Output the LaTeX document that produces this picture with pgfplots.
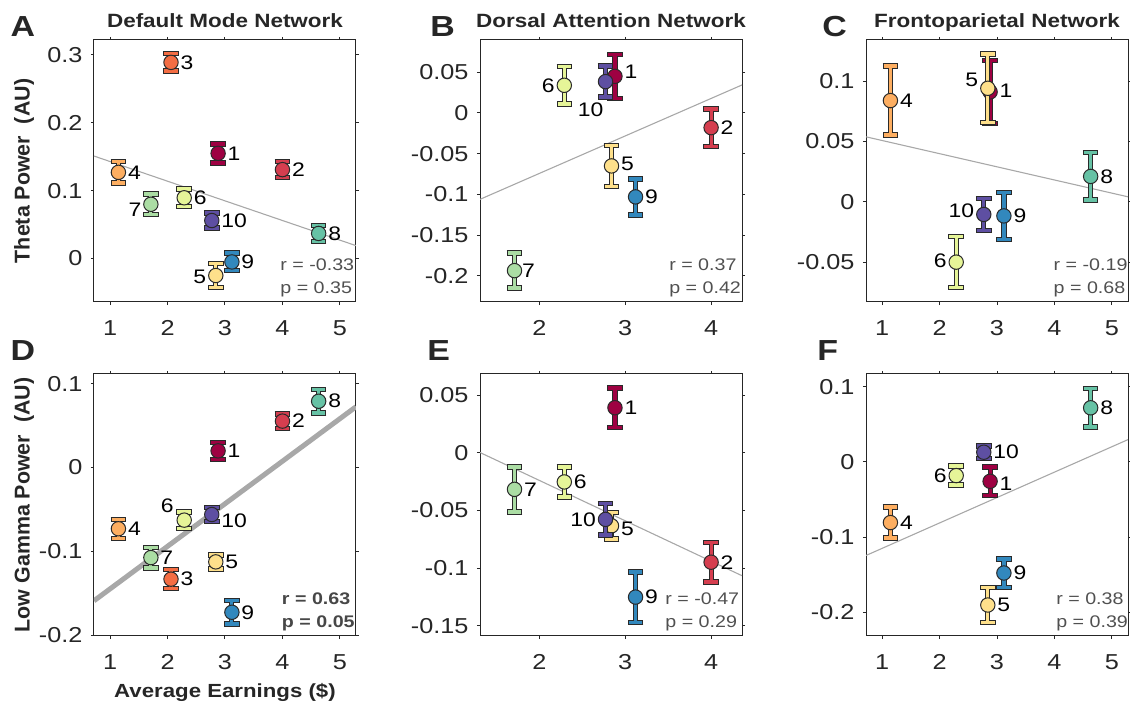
\documentclass[border=0pt]{standalone}
\usepackage{fontspec}
\setmainfont{Liberation Sans}[FakeStretch=1.17]
\newfontfamily\ylabfont{Liberation Sans}
\usepackage{pgfplots}
\pgfplotsset{compat=1.18}
\definecolor{c1}{HTML}{9E0142}
\definecolor{c2}{HTML}{D53E4F}
\definecolor{c3}{HTML}{F46D43}
\definecolor{c4}{HTML}{FDAE61}
\definecolor{c5}{HTML}{FEE08B}
\definecolor{c6}{HTML}{E6F598}
\definecolor{c7}{HTML}{ABDDA4}
\definecolor{c8}{HTML}{66C2A5}
\definecolor{c9}{HTML}{3288BD}
\definecolor{c10}{HTML}{5E4FA2}
\definecolor{ebc}{HTML}{2A2A2A}
\definecolor{axc}{HTML}{262626}
\definecolor{regc}{HTML}{A8A8A8}
\definecolor{statc}{HTML}{505050}
\pgfplotsset{
  ax/.style={scale only axis, width=131pt, height=131pt, anchor=south west,
    clip mode=individual,
    tick align=outside, major tick length=1.6pt,
    axis line style={draw=axc, line width=0.5pt},
    tick style={draw=axc, line width=0.5pt},
    ticklabel style={font=\fontsize{10.8}{13}\selectfont, text=axc},
    xticklabel style={yshift=-4.3pt},
    yticklabel style={xshift=-0.6pt},
    title style={font=\bfseries\fontsize{9.6}{12}\selectfont, text=axc, anchor=base, at={(0.5,1.0485)}, yshift=-6pt},
    ylabel style={font=\ylabfont\bfseries\fontsize{10.7}{12}\selectfont, text=axc, at={(axis description cs:-0.267,0.5)}, anchor=center},
    xlabel style={font=\bfseries\fontsize{9.5}{12}\selectfont, text=axc, at={(axis description cs:0.5,-0.233)}, anchor=base},
  },
  xa/.style={xmin=0.72, xmax=5.28, xtick={1,2,3,4,5}, xticklabels={1,2,3,4,5}},
  xb/.style={xmin=1.308, xmax=4.36, xtick={2,3,4}, xticklabels={2,3,4}},
  eo/.style={forget plot, only marks, mark=none, error bars/.cd, y dir=both, y explicit,
    error mark=-, error bar style={line width=2.6pt, draw=ebc},
    error mark options={rotate=90, mark size=3.9pt, line width=2.7pt, draw=ebc}},
  ei/.style={forget plot, only marks, mark=*, mark size=3.6pt,
    mark options={fill=#1, draw=ebc, line width=0.5pt},
    error bars/.cd, y dir=both, y explicit,
    error mark=-, error bar style={line width=1.6pt, draw=#1},
    error mark options={rotate=90, mark size=3.4pt, line width=1.7pt, draw=#1}},
  reg/.style={forget plot, no marks, draw=regc, line width=0.55pt},
}
\tikzset{
  lr/.style={anchor=west, xshift=4.6pt, inner sep=0pt, font=\fontsize{9.8}{12}\selectfont},
  ll/.style={anchor=east, xshift=-4.6pt, inner sep=0pt, font=\fontsize{9.8}{12}\selectfont},
  st/.style={anchor=base west, inner sep=0pt, font=\fontsize{8.4}{10}\selectfont, text=statc},
  pl/.style={anchor=base west, inner sep=0pt, font=\bfseries\fontsize{14.5}{16}\selectfont, text=axc},
}
\begin{document}
\begin{tikzpicture}
\useasboundingbox (0,0) rectangle (565pt,352pt);
% ---------------- A
\begin{axis}[ax, xa, at={(47pt,201pt)}, ymin=-0.064, ymax=0.322,
  ytick={0,0.1,0.2,0.3}, yticklabels={0,0.1,0.2,0.3},
  title={Default Mode Network}, ylabel={Theta Power\ \ (AU)}]
\addplot[reg] coordinates {(0.72,0.151) (5.28,0.019)};
\addplot[eo] coordinates {(2.88,0.155) +- (0,0.014)};
\addplot[ei=c1] coordinates {(2.88,0.155) +- (0,0.014)};
\addplot[eo] coordinates {(4.00,0.131) +- (0,0.012)};
\addplot[ei=c2] coordinates {(4.00,0.131) +- (0,0.012)};
\addplot[eo] coordinates {(2.06,0.289) +- (0,0.013)};
\addplot[ei=c3] coordinates {(2.06,0.289) +- (0,0.013)};
\addplot[eo] coordinates {(1.145,0.127) +- (0,0.016)};
\addplot[ei=c4] coordinates {(1.145,0.127) +- (0,0.016)};
\addplot[eo] coordinates {(2.84,-0.025) +- (0,0.018)};
\addplot[ei=c5] coordinates {(2.84,-0.025) +- (0,0.018)};
\addplot[eo] coordinates {(2.29,0.0895) +- (0,0.013)};
\addplot[ei=c6] coordinates {(2.29,0.0895) +- (0,0.013)};
\addplot[eo] coordinates {(1.71,0.080) +- (0,0.015)};
\addplot[ei=c7] coordinates {(1.71,0.080) +- (0,0.015)};
\addplot[eo] coordinates {(4.63,0.037) +- (0,0.012)};
\addplot[ei=c8] coordinates {(4.63,0.037) +- (0,0.012)};
\addplot[eo] coordinates {(3.12,-0.005) +- (0,0.013)};
\addplot[ei=c9] coordinates {(3.12,-0.005) +- (0,0.013)};
\addplot[eo] coordinates {(2.77,0.056) +- (0,0.011)};
\addplot[ei=c10] coordinates {(2.77,0.056) +- (0,0.011)};
\node[lr] at (axis cs:2.88,0.155) {1};
\node[lr] at (axis cs:4.00,0.131) {2};
\node[lr] at (axis cs:2.06,0.289) {3};
\node[lr] at (axis cs:1.145,0.127) {4};
\node[ll] at (axis cs:2.84,-0.027) {5};
\node[lr] at (axis cs:2.29,0.0895) {6};
\node[ll] at (axis cs:1.71,0.072) {7};
\node[lr] at (axis cs:4.63,0.037) {8};
\node[lr] at (axis cs:3.12,-0.005) {9};
\node[lr] at (axis cs:2.77,0.056) {10};
\node[st] at (axis description cs:0.71,0.122) {r = -0.33};
\node[st] at (axis description cs:0.71,0.034) {p = 0.35};
\node[pl] at (axis description cs:-0.32,1.0115) {A};
\end{axis}
% ---------------- B
\begin{axis}[ax, xb, at={(240pt,201pt)}, ymin=-0.232, ymax=0.0896,
  ytick={-0.2,-0.15,-0.1,-0.05,0,0.05}, yticklabels={-0.2,-0.15,-0.1,-0.05,0,0.05},
  title={Dorsal Attention Network}]
\addplot[reg] coordinates {(1.308,-0.106) (4.36,0.0344)};
\addplot[eo] coordinates {(2.88,0.045) +- (0,0.027)};
\addplot[ei=c1] coordinates {(2.88,0.045) +- (0,0.027)};
\addplot[eo] coordinates {(4.00,-0.018) +- (0,0.023)};
\addplot[ei=c2] coordinates {(4.00,-0.018) +- (0,0.023)};
\addplot[eo] coordinates {(2.84,-0.065) +- (0,0.025)};
\addplot[ei=c5] coordinates {(2.84,-0.065) +- (0,0.025)};
\addplot[eo] coordinates {(2.29,0.034) +- (0,0.023)};
\addplot[ei=c6] coordinates {(2.29,0.034) +- (0,0.023)};
\addplot[eo] coordinates {(1.71,-0.1935) +- (0,0.0215)};
\addplot[ei=c7] coordinates {(1.71,-0.1935) +- (0,0.0215)};
\addplot[eo] coordinates {(3.12,-0.103) +- (0,0.022)};
\addplot[ei=c9] coordinates {(3.12,-0.103) +- (0,0.022)};
\addplot[eo] coordinates {(2.77,0.0385) +- (0,0.019)};
\addplot[ei=c10] coordinates {(2.77,0.0385) +- (0,0.019)};
\node[lr] at (axis cs:2.88,0.051) {1};
\node[lr] at (axis cs:4.00,-0.018) {2};
\node[lr] at (axis cs:2.84,-0.063) {5};
\node[ll] at (axis cs:2.29,0.033) {6};
\node[lr, xshift=-1pt] at (axis cs:1.71,-0.1935) {7};
\node[lr] at (axis cs:3.12,-0.103) {9};
\node[anchor=east, inner sep=0pt, font=\fontsize{9.8}{12}\selectfont] at (axis cs:2.75,0.004) {10};
\node[st] at (axis description cs:0.721,0.122) {r = 0.37};
\node[st] at (axis description cs:0.721,0.034) {p = 0.42};
\node[pl] at (axis description cs:-0.191,1.0115) {B};
\end{axis}
% ---------------- C
\begin{axis}[ax, xa, at={(433pt,201pt)}, ymin=-0.083, ymax=0.134,
  ytick={-0.05,0,0.05,0.1}, yticklabels={-0.05,0,0.05,0.1},
  title={Frontoparietal Network}]
\addplot[reg] coordinates {(0.72,0.0538) (5.28,0.0041)};
\addplot[eo] coordinates {(2.88,0.091) +- (0,0.026)};
\addplot[ei=c1] coordinates {(2.88,0.091) +- (0,0.026)};
\addplot[eo] coordinates {(1.145,0.0838) +- (0,0.0286)};
\addplot[ei=c4] coordinates {(1.145,0.0838) +- (0,0.0286)};
\addplot[eo] coordinates {(2.84,0.094) +- (0,0.0285)};
\addplot[ei=c5] coordinates {(2.84,0.094) +- (0,0.0285)};
\addplot[eo] coordinates {(2.29,-0.050) +- (0,0.021)};
\addplot[ei=c6] coordinates {(2.29,-0.050) +- (0,0.021)};
\addplot[eo] coordinates {(4.63,0.021) +- (0,0.0196)};
\addplot[ei=c8] coordinates {(4.63,0.021) +- (0,0.0196)};
\addplot[eo] coordinates {(3.12,-0.0117) +- (0,0.0195)};
\addplot[ei=c9] coordinates {(3.12,-0.0117) +- (0,0.0195)};
\addplot[eo] coordinates {(2.77,-0.0105) +- (0,0.0134)};
\addplot[ei=c10] coordinates {(2.77,-0.0105) +- (0,0.0134)};
\node[lr] at (axis cs:2.88,0.092) {1};
\node[lr] at (axis cs:1.145,0.0838) {4};
\node[ll] at (axis cs:2.84,0.101) {5};
\node[ll] at (axis cs:2.29,-0.049) {6};
\node[lr] at (axis cs:4.63,0.021) {8};
\node[lr] at (axis cs:3.12,-0.0117) {9};
\node[ll] at (axis cs:2.77,-0.0075) {10};
\node[st] at (axis description cs:0.715,0.122) {r = -0.19};
\node[st] at (axis description cs:0.715,0.034) {p = 0.68};
\node[pl] at (axis description cs:-0.168,1.0115) {C};
\end{axis}
% ---------------- D
\begin{axis}[ax, xa, at={(47pt,34pt)}, ymin=-0.201, ymax=0.1115,
  ytick={-0.2,-0.1,0,0.1}, yticklabels={-0.2,-0.1,0,0.1},
  ylabel={Low Gamma Power\ \ (AU)}, xlabel={Average Earnings (\$)}]
\addplot[reg, line width=2.5pt] coordinates {(0.72,-0.159) (5.28,0.0724)};
\addplot[eo] coordinates {(2.88,0.0198) +- (0,0.010)};
\addplot[ei=c1] coordinates {(2.88,0.0198) +- (0,0.010)};
\addplot[eo] coordinates {(4.00,0.0553) +- (0,0.0085)};
\addplot[ei=c2] coordinates {(4.00,0.0553) +- (0,0.0085)};
\addplot[eo] coordinates {(2.06,-0.1332) +- (0,0.0115)};
\addplot[ei=c3] coordinates {(2.06,-0.1332) +- (0,0.0115)};
\addplot[eo] coordinates {(1.145,-0.0731) +- (0,0.0113)};
\addplot[ei=c4] coordinates {(1.145,-0.0731) +- (0,0.0113)};
\addplot[eo] coordinates {(2.84,-0.1126) +- (0,0.0083)};
\addplot[ei=c5] coordinates {(2.84,-0.1126) +- (0,0.0083)};
\addplot[eo] coordinates {(2.29,-0.0628) +- (0,0.0097)};
\addplot[ei=c6] coordinates {(2.29,-0.0628) +- (0,0.0097)};
\addplot[eo] coordinates {(1.71,-0.1075) +- (0,0.0124)};
\addplot[ei=c7] coordinates {(1.71,-0.1075) +- (0,0.0124)};
\addplot[eo] coordinates {(4.63,0.079) +- (0,0.0138)};
\addplot[ei=c8] coordinates {(4.63,0.079) +- (0,0.0138)};
\addplot[eo] coordinates {(3.12,-0.1727) +- (0,0.0138)};
\addplot[ei=c9] coordinates {(3.12,-0.1727) +- (0,0.0138)};
\addplot[eo] coordinates {(2.77,-0.0561) +- (0,0.0085)};
\addplot[ei=c10] coordinates {(2.77,-0.0561) +- (0,0.0085)};
\node[lr] at (axis cs:2.88,0.0198) {1};
\node[lr] at (axis cs:4.00,0.0553) {2};
\node[lr] at (axis cs:2.06,-0.1332) {3};
\node[lr] at (axis cs:1.145,-0.0731) {4};
\node[lr] at (axis cs:2.84,-0.1126) {5};
\node[ll, yshift=7pt, xshift=-0.5pt] at (axis cs:2.29,-0.0628) {6};
\node[lr] at (axis cs:1.71,-0.1075) {7};
\node[lr] at (axis cs:4.63,0.079) {8};
\node[lr] at (axis cs:3.12,-0.1727) {9};
\node[lr, yshift=-3pt] at (axis cs:2.77,-0.0561) {10};
\node[st, font=\bfseries\fontsize{8.4}{10}\selectfont, text=axc!85!white] at (axis description cs:0.716,0.122) {r = 0.63};
\node[st, font=\bfseries\fontsize{8.4}{10}\selectfont, text=axc!85!white] at (axis description cs:0.716,0.034) {p = 0.05};
\node[pl] at (axis description cs:-0.32,1.053) {D};
\end{axis}
% ---------------- E
\begin{axis}[ax, xb, at={(240pt,34pt)}, ymin=-0.1587, ymax=0.0682,
  ytick={-0.15,-0.1,-0.05,0,0.05}, yticklabels={-0.15,-0.1,-0.05,0,0.05}]
\addplot[reg] coordinates {(1.308,0.0002) (4.36,-0.1065)};
\addplot[eo] coordinates {(2.88,0.039) +- (0,0.0169)};
\addplot[ei=c1] coordinates {(2.88,0.039) +- (0,0.0169)};
\addplot[eo] coordinates {(4.00,-0.0948) +- (0,0.0173)};
\addplot[ei=c2] coordinates {(4.00,-0.0948) +- (0,0.0173)};
\addplot[eo] coordinates {(2.84,-0.0633) +- (0,0.0113)};
\addplot[ei=c5] coordinates {(2.84,-0.0633) +- (0,0.0113)};
\addplot[eo] coordinates {(2.29,-0.0253) +- (0,0.0129)};
\addplot[ei=c6] coordinates {(2.29,-0.0253) +- (0,0.0129)};
\addplot[eo] coordinates {(1.71,-0.0317) +- (0,0.0195)};
\addplot[ei=c7] coordinates {(1.71,-0.0317) +- (0,0.0195)};
\addplot[eo] coordinates {(3.12,-0.125) +- (0,0.0218)};
\addplot[ei=c9] coordinates {(3.12,-0.125) +- (0,0.0218)};
\addplot[eo] coordinates {(2.77,-0.0577) +- (0,0.0137)};
\addplot[ei=c10] coordinates {(2.77,-0.0577) +- (0,0.0137)};
\node[lr] at (axis cs:2.88,0.039) {1};
\node[lr] at (axis cs:4.00,-0.0948) {2};
\node[lr] at (axis cs:2.84,-0.0655) {5};
\node[lr] at (axis cs:2.29,-0.0253) {6};
\node[lr] at (axis cs:1.71,-0.0317) {7};
\node[lr] at (axis cs:3.12,-0.125) {9};
\node[ll] at (axis cs:2.77,-0.0577) {10};
\node[st] at (axis description cs:0.706,0.122) {r = -0.47};
\node[st] at (axis description cs:0.706,0.034) {p = 0.29};
\node[pl] at (axis description cs:-0.202,1.053) {E};
\end{axis}
% ---------------- F
\begin{axis}[ax, xa, at={(433pt,34pt)}, ymin=-0.2316, ymax=0.117,
  ytick={-0.2,-0.1,0,0.1}, yticklabels={-0.2,-0.1,0,0.1}]
\addplot[reg] coordinates {(0.72,-0.1245) (5.28,0.0297)};
\addplot[eo] coordinates {(2.88,-0.0258) +- (0,0.0189)};
\addplot[ei=c1] coordinates {(2.88,-0.0258) +- (0,0.0189)};
\addplot[eo] coordinates {(1.145,-0.0807) +- (0,0.0207)};
\addplot[ei=c4] coordinates {(1.145,-0.0807) +- (0,0.0207)};
\addplot[eo] coordinates {(2.84,-0.1904) +- (0,0.0233)};
\addplot[ei=c5] coordinates {(2.84,-0.1904) +- (0,0.0233)};
\addplot[eo] coordinates {(2.29,-0.0182) +- (0,0.0127)};
\addplot[ei=c6] coordinates {(2.29,-0.0182) +- (0,0.0127)};
\addplot[eo] coordinates {(4.63,0.072) +- (0,0.0258)};
\addplot[ei=c8] coordinates {(4.63,0.072) +- (0,0.0258)};
\addplot[eo] coordinates {(3.12,-0.1478) +- (0,0.0189)};
\addplot[ei=c9] coordinates {(3.12,-0.1478) +- (0,0.0189)};
\addplot[eo] coordinates {(2.77,0.0129) +- (0,0.0084)};
\addplot[ei=c10] coordinates {(2.77,0.0129) +- (0,0.0084)};
\node[lr] at (axis cs:2.88,-0.029) {1};
\node[lr] at (axis cs:1.145,-0.0807) {4};
\node[lr] at (axis cs:2.84,-0.1904) {5};
\node[ll] at (axis cs:2.29,-0.0182) {6};
\node[lr] at (axis cs:4.63,0.072) {8};
\node[lr] at (axis cs:3.12,-0.1478) {9};
\node[lr] at (axis cs:2.77,0.0129) {10};
\node[st] at (axis description cs:0.725,0.122) {r = 0.38};
\node[st] at (axis description cs:0.725,0.034) {p = 0.39};
\node[pl] at (axis description cs:-0.187,1.053) {F};
\end{axis}
\end{tikzpicture}
\end{document}
